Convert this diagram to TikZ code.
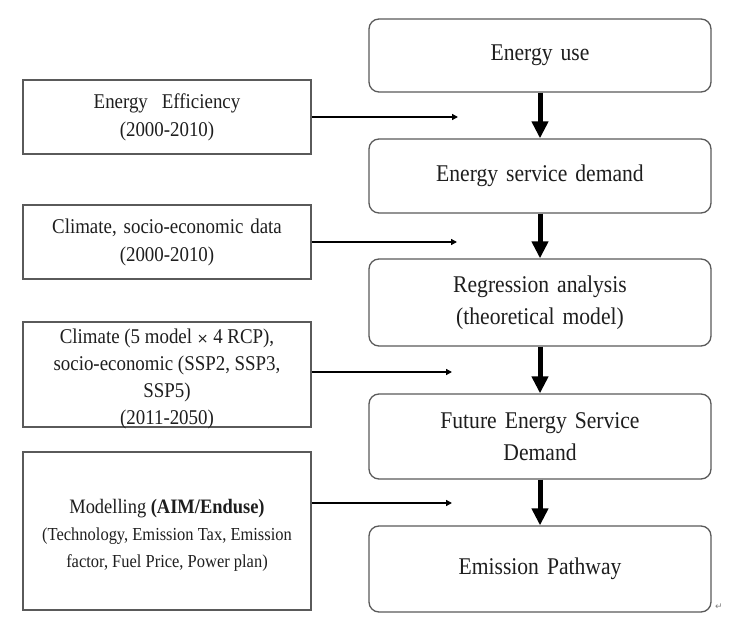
\documentclass[tikz,border=0pt]{standalone}
\usepackage{fontspec}
\setmainfont{Liberation Serif}[FakeStretch=0.9]
\newfontfamily\symfont{DejaVu Sans}
\usetikzlibrary{arrows.meta}
\definecolor{boxgray}{HTML}{5A5A5A}
\definecolor{txtgray}{HTML}{1E1E1E}
\begin{document}
\begin{tikzpicture}[x=1pt,y=1pt,
  rbox/.style={draw=boxgray, line width=1.3pt, rounded corners=10pt, minimum width=342pt, text width=330pt, align=center, inner sep=0pt, text=txtgray, font=\fontsize{24}{32}\selectfont},
  lbox/.style={draw=boxgray, line width=1.3pt, minimum width=288pt, text width=284pt, align=center, inner sep=0pt, text=txtgray, font=\fontsize{21}{28}\selectfont},
  ltext/.style={align=center, inner sep=0pt, text=txtgray},
  flowarrow/.style={line width=5pt, -{Triangle[width=16pt,length=17pt]}},
  feedarrow/.style={line width=1.4pt, -{Triangle[width=6pt,length=6pt]}}]
\fill[white] (0,0) rectangle (746,632);
\useasboundingbox (0,0) rectangle (746,632);
% right column
\node[rbox, minimum height=73pt] (b1) at (540,576.5) {Energy use};
\node[rbox, minimum height=74pt] (b2) at (540,456) {Energy service demand};
\node[rbox, minimum height=87pt] (b3) at (540,329.5) {Regression analysis\\(theoretical model)};
\node[rbox, minimum height=85pt] (b4) at (540,195.5) {Future Energy Service\\Demand};
\node[rbox, minimum height=86pt] (b5) at (540,63) {Emission Pathway};
% left column
\node[lbox, minimum height=74pt] (l1) at (167,515) {Energy\ \ Efficiency\\(2000-2010)};
\node[lbox, minimum height=74pt] (l2) at (167,390) {Climate, socio-economic data\\(2000-2010)};
\node[lbox, minimum height=105pt] (l3) at (167,257.5) {};
\node[ltext, font=\fontsize{21}{26.7}\selectfont] (l3t) at (167,253) {Climate (5 model\ {\symfont\fontsize{14}{14}\selectfont ×}\ 4\ RCP),\\socio-economic\ (SSP2, SSP3,\\SSP5)\\(2011-2050)};
\node[lbox, minimum height=158pt] (l4) at (167,101) {};
\node[ltext, font=\fontsize{20.5}{27}\selectfont] (l4t) at (167,97) {Modelling\ \textbf{(AIM/Enduse)}\\{\fontsize{18.3}{25}\selectfont (Technology, Emission\ Tax, Emission}\\{\fontsize{18.3}{25}\selectfont factor, Fuel Price, Power plan)}};
% flow arrows
\draw[flowarrow] (b1.south) -- (b2.north);
\draw[flowarrow] (b2.south) -- (b3.north);
\draw[flowarrow] (b3.south) -- (b4.north);
\draw[flowarrow] (b4.south) -- (b5.north);
% input arrows
\coordinate (e1) at (458,515);
\coordinate (e2) at (457,390);
\coordinate (e3) at (452,260);
\coordinate (e4) at (452,129);
\draw[feedarrow] (l1.east) -- (e1);
\draw[feedarrow] (l2.east) -- (e2);
\draw[feedarrow] (l3.east |- e3) -- (e3);
\draw[feedarrow] (l4.east |- e4) -- (e4);
% paragraph mark
\node[text=gray, inner sep=0pt, font=\symfont\fontsize{9}{9}\selectfont] (pm) at (719,25) {↵};
\end{tikzpicture}
\end{document}
